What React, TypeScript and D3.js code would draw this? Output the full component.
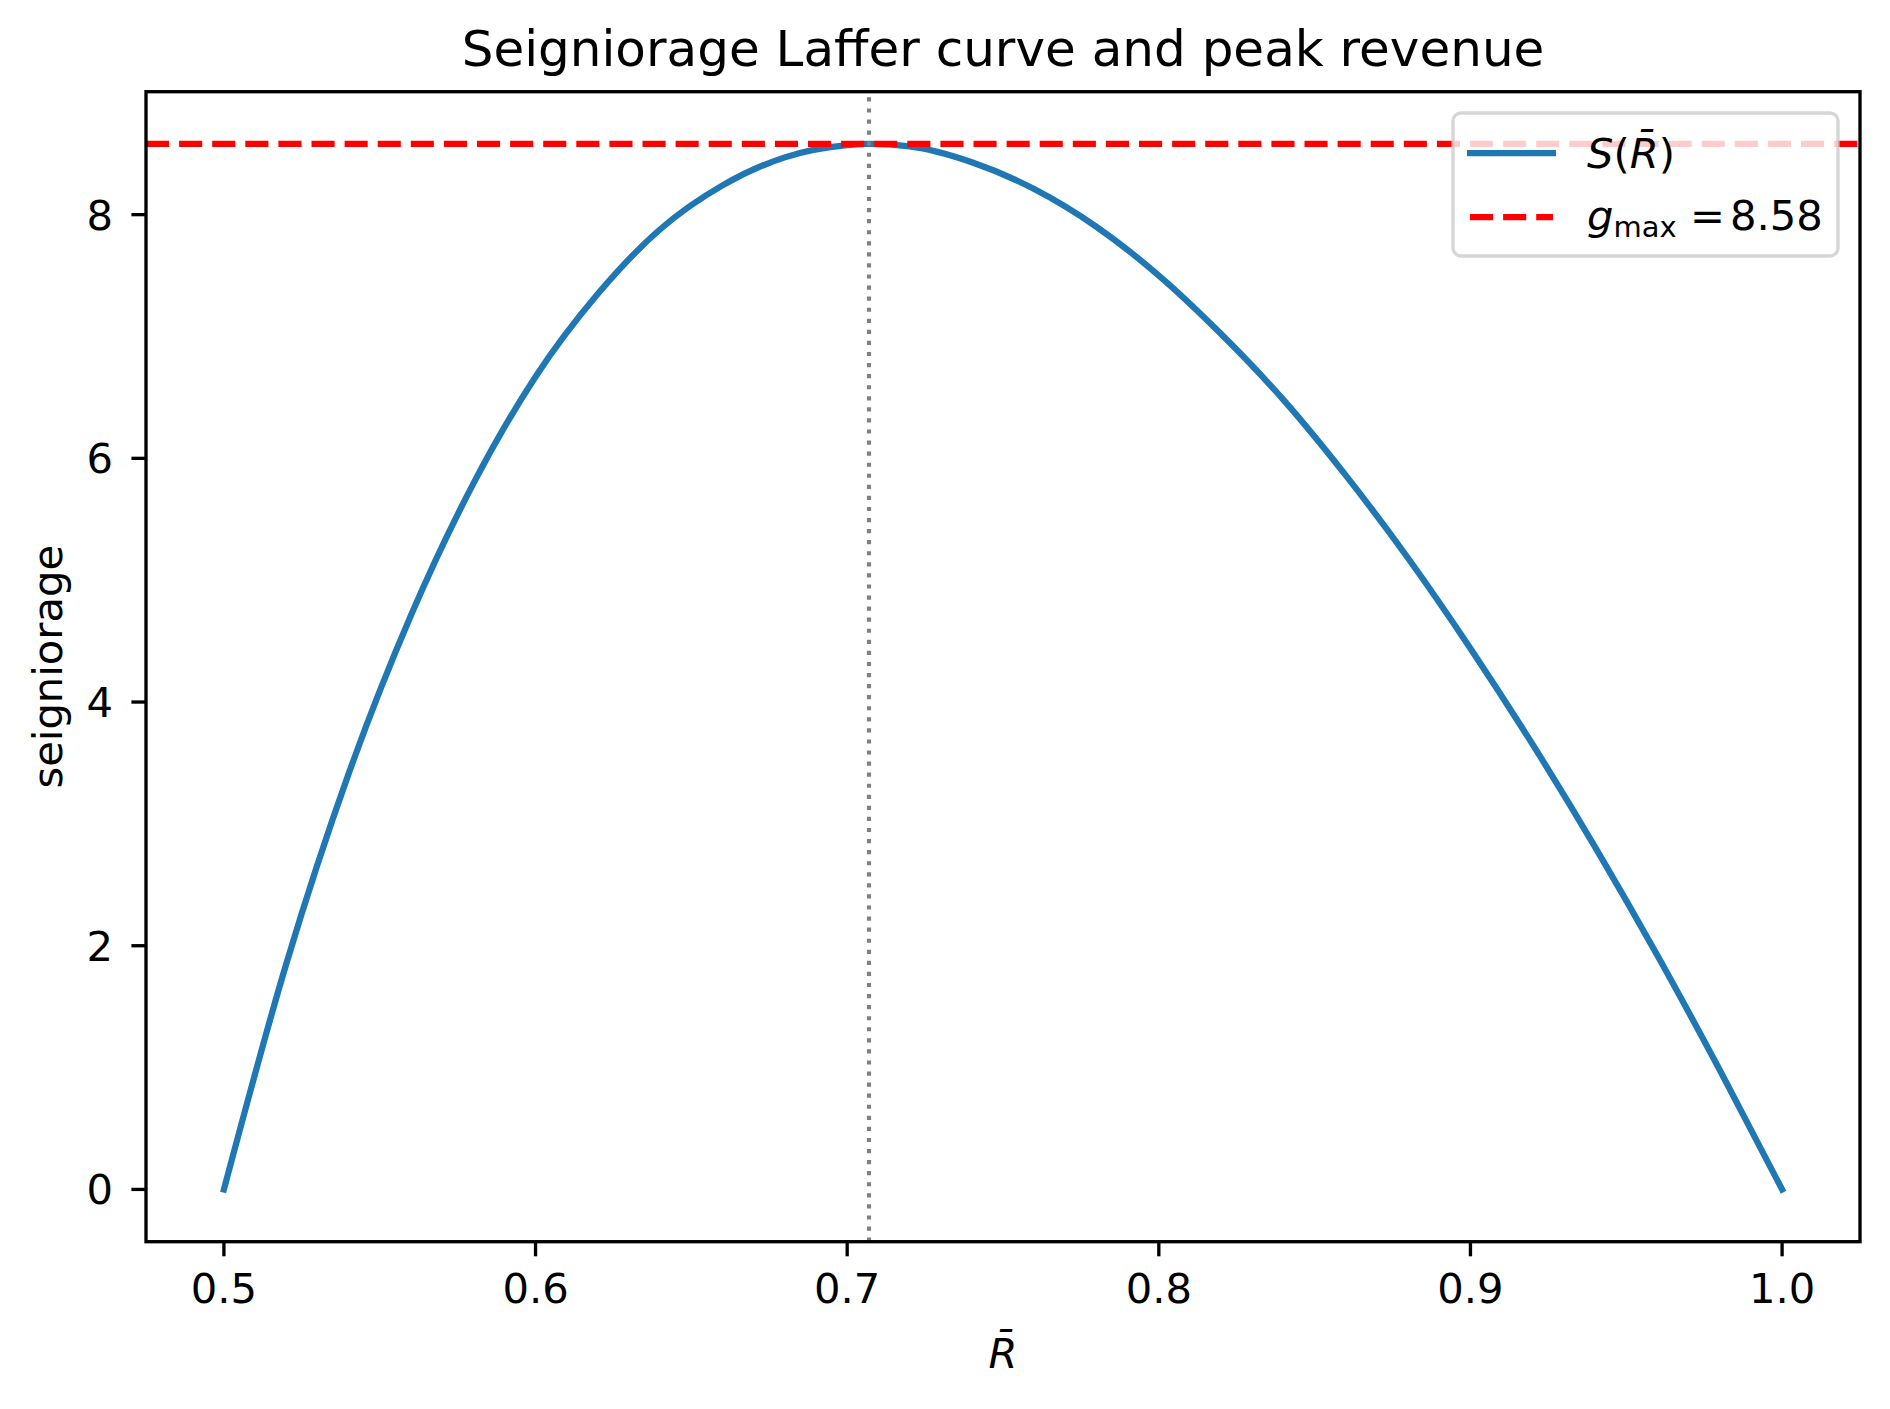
import React from 'react';
import * as d3 from 'd3';

// values
const rBar = [0.5, 0.52, 0.54, 0.56, 0.58, 0.6, 0.62, 0.64, 0.66, 0.68, 0.7, 0.707, 0.72, 0.74, 0.76, 0.78, 0.8, 0.82, 0.84, 0.86, 0.88, 0.9, 0.92, 0.94, 0.96, 0.98, 1.0];
const seigniorage = [0, 1.85, 3.41, 4.71, 5.79, 6.67, 7.35, 7.88, 8.24, 8.47, 8.57, 8.58, 8.56, 8.43, 8.21, 7.9, 7.5, 7.02, 6.48, 5.86, 5.18, 4.44, 3.65, 2.81, 1.92, 0.98, 0];
const gMax = 8.58;
const rPeak = 0.707;
const xTicks = [0.5, 0.6, 0.7, 0.8, 0.9, 1.0];
const yTicks = [0, 2, 4, 6, 8];

const W = 1890;
const H = 1409;
const left = 146;
const right = 1860;
const top = 91.7;
const bottom = 1241.7;
const font = 'DejaVu Sans, sans-serif';
const fs = 41.7;

export default function App() {
  const x = d3.scaleLinear().domain([0.475, 1.025]).range([left, right]);
  const y = d3.scaleLinear().domain([-0.429, 9.009]).range([bottom, top]);
  const pts = rBar.map((r, i) => [r, seigniorage[i]] as [number, number]);
  const line = d3
    .line<[number, number]>()
    .x((d) => x(d[0]))
    .y((d) => y(d[1]))
    .curve(d3.curveMonotoneX);

  return (
    <div style={{ position: 'absolute', left: 0, top: 0 }}>
      <svg width={W} height={H} style={{ display: 'block', background: '#fff' }}>
        <defs>
          <clipPath id="plot">
            <rect x={left} y={top} width={right - left} height={bottom - top} />
          </clipPath>
        </defs>

        <g clipPath="url(#plot)">
          <path d={line(pts) || ''} fill="none" stroke="#1f77b4" strokeWidth={6.25} strokeLinecap="square" strokeLinejoin="round" />
          <line x1={left} x2={right} y1={y(gMax)} y2={y(gMax)} stroke="red" strokeWidth={6.25} strokeDasharray="23.1 10" />
          <line x1={x(rPeak)} x2={x(rPeak)} y1={bottom} y2={top} stroke="gray" strokeWidth={4.17} strokeDasharray="4.17 6.9" />
        </g>

        <rect x={left} y={top} width={right - left} height={bottom - top} fill="none" stroke="#000" strokeWidth={3.33} />

        {xTicks.map((t) => (
          <g key={'x' + t}>
            <line x1={x(t)} x2={x(t)} y1={bottom} y2={bottom + 14.6} stroke="#000" strokeWidth={3.33} />
            <text x={x(t)} y={1303} textAnchor="middle" fontFamily={font} fontSize={fs}>
              {t.toFixed(1)}
            </text>
          </g>
        ))}
        {yTicks.map((t) => (
          <g key={'y' + t}>
            <line x1={left - 14.6} x2={left} y1={y(t)} y2={y(t)} stroke="#000" strokeWidth={3.33} />
            <text x={113} y={y(t) + 15} textAnchor="end" fontFamily={font} fontSize={fs}>
              {t}
            </text>
          </g>
        ))}

        <text x={(left + right) / 2} y={66} textAnchor="middle" fontFamily={font} fontSize={50}>
          Seigniorage Laffer curve and peak revenue
        </text>
        <text x={(left + right) / 2} y={1368} textAnchor="middle" fontFamily={font} fontSize={fs} fontStyle="italic">
          {'R\u0304'}
        </text>
        <text transform={`translate(62,${(top + bottom) / 2}) rotate(-90)`} textAnchor="middle" fontFamily={font} fontSize={fs}>
          seigniorage
        </text>

        <g>
          <rect x={1453} y={113} width={385} height={143} rx={8} ry={8} fill="#fff" fillOpacity={0.8} stroke="#cccccc" strokeOpacity={0.8} strokeWidth={3.33} />
          <line x1={1467} x2={1556} y1={153} y2={153} stroke="#1f77b4" strokeWidth={6.25} />
          <line x1={1470} x2={1553} y1={217} y2={217} stroke="red" strokeWidth={6.25} strokeDasharray="23.1 10" />
          <text x={1587} y={168} fontFamily={font} fontSize={fs}>
            <tspan fontStyle="italic">S</tspan>
            <tspan>(</tspan>
            <tspan fontStyle="italic">{'R\u0304'}</tspan>
            <tspan>)</tspan>
          </text>
          <text y={230} fontFamily={font} fontSize={fs}>
            <tspan x={1587} fontStyle="italic">g</tspan>
            <tspan fontSize={29} dy={7}>max</tspan>
            <tspan x={1690} dy={-7}>=</tspan>
            <tspan x={1730}>8.58</tspan>
          </text>
        </g>
      </svg>
    </div>
  );
}
